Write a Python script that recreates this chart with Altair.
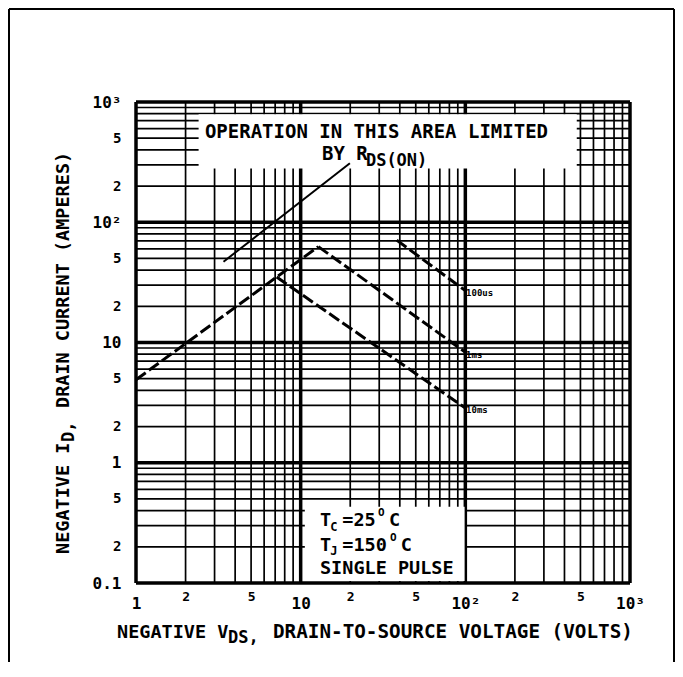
import altair as alt
import pandas as pd

# ---------------- data ----------------
decades_x = [1, 10, 100, 1000]
decades_y = [0.1, 1, 10, 100, 1000]
minor_mult = [2, 3, 4, 5, 6, 7, 8, 9]

# SOA boundary segments: drain-source volts / drain amps
rds_v, rds_i = [1, 12.8], [4.9, 62.7]          # R_DS(on) limit
ms1_v, ms1_i = [12.8, 100], [62.7, 8.3]         # 1 ms
ms10_v, ms10_i = [7.15, 100], [35.0, 2.85]      # 10 ms
us100_v, us100_i = [38.3, 100], [71.0, 27.0]    # 100 us
ptr_v, ptr_i = [3.4, 19.9], [47.0, 309.0]       # pointer from the label

x_ticks = [1, 2, 5, 10, 20, 50, 100, 200, 500, 1000]
x_labels = ["1", "2", "5", "10", "2", "5", "10²", "2", "5", "10³"]
y_ticks = [0.1, 0.2, 0.5, 1, 2, 5, 10, 20, 50, 100, 200, 500, 1000]
y_labels = ["0.1", "2", "5", "1", "2", "5", "10", "2", "5", "10²", "2", "5", "10³"]

curve_labels = ["100us", "1ms", "10ms"]
curve_label_v = [101, 101, 101]
curve_label_i = [26.0, 7.9, 2.75]

FONT = "DejaVu Sans Mono"
W, H = 494, 481

xs = alt.Scale(type="log", domain=[1, 1000], nice=False)
ys = alt.Scale(type="log", domain=[0.1, 1000], nice=False)

dec_x_test = "indexof([1,10,100,1000], datum.value) >= 0"
dec_y_test = "indexof([0.1,1,10,100,1000], datum.value) >= 0"

x_axis = alt.Axis(
    values=x_ticks,
    labelExpr="[" + ",".join("'%s'" % s for s in x_labels) + "][indexof(["
    + ",".join(str(t) for t in x_ticks) + "], datum.value)]",
    grid=False, ticks=False, domain=False, title=None,
    labelFont=FONT, labelFontWeight="bold", labelColor="black",
    labelBaseline="middle", labelAlign="center",
    labelFontSize={"condition": {"test": dec_x_test, "value": 16}, "value": 13},
    labelPadding={"condition": {"test": dec_x_test, "value": 20}, "value": 13},
    labelFlush=False, labelOverlap=False,
)
y_axis = alt.Axis(
    values=y_ticks,
    labelExpr="[" + ",".join("'%s'" % s for s in y_labels) + "][indexof(["
    + ",".join(str(t) for t in y_ticks) + "], datum.value)]",
    grid=False, ticks=False, domain=False, title=None,
    labelFont=FONT, labelFontWeight="bold", labelColor="black",
    labelBaseline="middle", labelAlign="right", labelPadding=15,
    labelFontSize={"condition": {"test": dec_y_test, "value": 16}, "value": 14},
    labelFlush=False, labelOverlap=False,
)

def X(f):
    return alt.X(f, scale=xs, axis=x_axis)

def Y(f):
    return alt.Y(f, scale=ys, axis=y_axis)

# ---------------- grid ----------------
gx = []
for d in decades_x:
    gx.append({"v": d, "w": 3.5})
    if d < 1000:
        for m in minor_mult:
            gx.append({"v": d * m, "w": 1.7})
gy = []
for d in decades_y:
    gy.append({"i": d, "w": 3.5})
    if d < 1000:
        for m in minor_mult:
            gy.append({"i": d * m, "w": 1.7})
gx = pd.DataFrame(gx)
gy = pd.DataFrame(gy)

grid_v = alt.Chart(gx).mark_rule(color="black").encode(
    x=X("v:Q"), strokeWidth=alt.StrokeWidth("w:Q", scale=None))
grid_h = alt.Chart(gy).mark_rule(color="black").encode(
    y=Y("i:Q"), strokeWidth=alt.StrokeWidth("w:Q", scale=None))

# ---------------- white label boxes ----------------
boxes = pd.DataFrame({"v": [2.4, 10.6], "v2": [475, 99], "i": [280, 0.104], "i2": [790, 0.43]})
box_layer = alt.Chart(boxes).mark_rect(color="white").encode(
    x=X("v:Q"), x2="v2:Q", y=Y("i:Q"), y2="i2:Q")

# ---------------- curves ----------------
rows = []
for name, vv, ii in [("rds", rds_v, rds_i), ("1ms", ms1_v, ms1_i),
                     ("10ms", ms10_v, ms10_i), ("100us", us100_v, us100_i)]:
    for k, (a, b) in enumerate(zip(vv, ii)):
        rows.append({"s": name, "v": a, "i": b, "o": k})
curves = pd.DataFrame(rows)

curve_layer = alt.Chart(curves).mark_line(color="black", strokeWidth=3, strokeDash=[12, 4]).encode(
    x=X("v:Q"), y=Y("i:Q"), detail="s:N", order="o:Q")

ptr = pd.DataFrame({"v": ptr_v, "i": ptr_i})
ptr_layer = alt.Chart(ptr).mark_line(color="black", strokeWidth=2).encode(
    x=X("v:Q"), y=Y("i:Q"))

cl = pd.DataFrame({"t": curve_labels, "v": curve_label_v, "i": curve_label_i})
cl_layer = alt.Chart(cl).mark_text(align="left", baseline="middle", font=FONT,
                                   fontSize=9, fontWeight="bold", color="black").encode(
    x=X("v:Q"), y=Y("i:Q"), text="t:N")

# ---------------- annotation texts (data space) ----------------
ann = pd.DataFrame({
    "t": ["OPERATION IN THIS AREA LIMITED", "BY R", "DS(ON)",
          "T", "C", "=25", "O", "C",
          "T", "J", "=150", "O", "C",
          "SINGLE PULSE"],
    "v": [2.62, 13.47, 24.9,
          13.1, 15.1, 17.9, 29.47, 34.37,
          13.1, 15.1, 17.9, 34.85, 40.6,
          13.1],
    "i": [560, 372, 326,
          0.335, 0.2933, 0.335, 0.380, 0.335,
          0.2077, 0.1852, 0.2077, 0.2375, 0.2077,
          0.1330],
    "fs": [19, 19, 17,
           18.5, 12, 18.5, 11, 18.5,
           18.5, 12, 18.5, 11, 18.5,
           18.5],
})
ann_layer = alt.Chart(ann).mark_text(align="left", baseline="middle", font=FONT,
                                     fontWeight="bold", color="black").encode(
    x=X("v:Q"), y=Y("i:Q"), text="t:N", size=alt.Size("fs:Q", scale=None))

# ---------------- axis titles (pixel placement) ----------------
def ptext(t, px, py, fs, angle=0):
    return alt.Chart(pd.DataFrame({"t": [t]})).mark_text(
        align="left", baseline="middle", font=FONT, fontSize=fs, angle=angle,
        fontWeight="bold", color="black"
    ).encode(text="t:N", x=alt.value(px), y=alt.value(py))

titles = [
    ptext("NEGATIVE V", -19, 530, 18.5),
    ptext("DS,", 92, 536, 17),
    ptext("DRAIN-TO-SOURCE VOLTAGE (VOLTS)", 137, 530, 19.3),
    ptext("NEGATIVE I", -73, 452, 18.5, 270),
    ptext("D,", -67, 340, 17, 270),
    ptext("DRAIN CURRENT (AMPERES)", -73, 306, 18.5, 270),
]

# ---------------- page frame ----------------
one = pd.DataFrame({"a": [0]})
frame = [
    alt.Chart(one).mark_rule(color="black", strokeWidth=2).encode(
        x=alt.value(-127), y=alt.value(-93), y2=alt.value(560)),
    alt.Chart(one).mark_rule(color="black", strokeWidth=2).encode(
        x=alt.value(538), y=alt.value(-93), y2=alt.value(560)),
    alt.Chart(one).mark_rule(color="black", strokeWidth=2).encode(
        y=alt.value(-93), x=alt.value(-127), x2=alt.value(538)),
]

chart = alt.layer(
    grid_v, grid_h, box_layer, curve_layer, ptr_layer, cl_layer, ann_layer, *titles, *frame
).properties(width=W, height=H, padding=0).configure_view(strokeWidth=0)

chart.save("out.html", embed_options={"renderer": "svg", "actions": False})
